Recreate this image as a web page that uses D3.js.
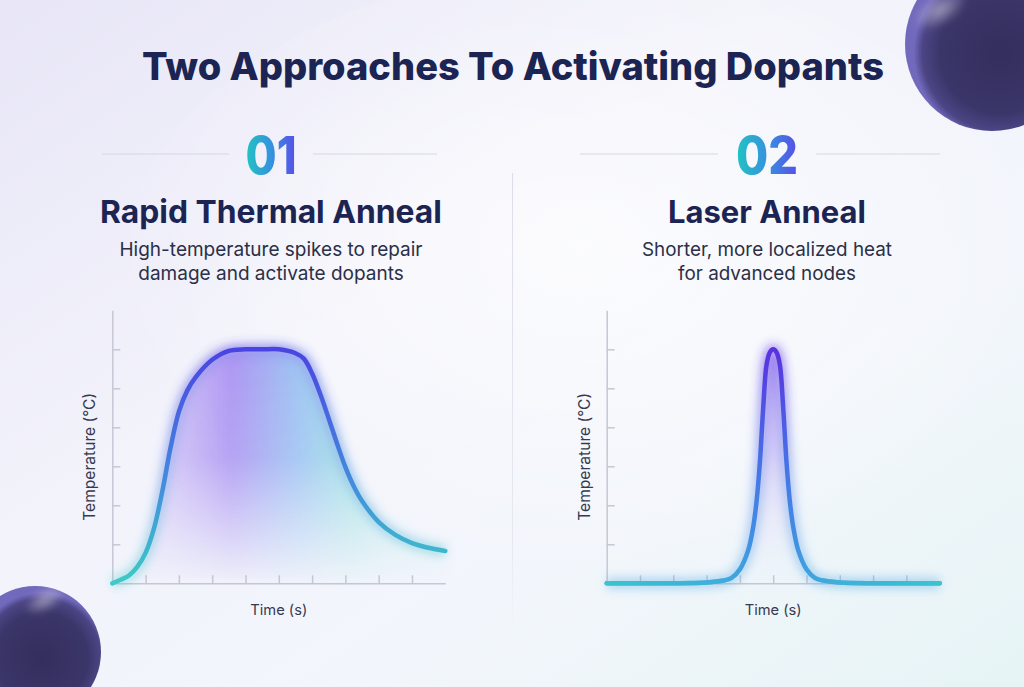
<!DOCTYPE html>
<html>
<head>
<meta charset="utf-8">
<script src="https://cdn.jsdelivr.net/npm/d3@7"></script>
<style>
  html, body { margin: 0; padding: 0; background: #f3f3fa; }
  svg { display: block; font-family: Inter, "Noto Sans", sans-serif; }
</style>
</head>
<body>
<svg id="chart" width="1024" height="687"></svg>
<script>
// values (temperature in tick units, time in tick units)
const rtaTime = [0, 0.25, 0.5, 0.75, 1, 1.25, 1.5, 1.75, 2, 2.25, 2.5, 3, 3.5, 4, 4.5, 5, 5.5, 5.75, 6, 6.25, 6.5, 6.75, 7, 7.25, 7.5, 8, 8.5, 9, 9.5, 10];
const rtaTemp = [0, 0.09, 0.2, 0.42, 0.78, 1.4, 2.35, 3.48, 4.4, 4.94, 5.28, 5.73, 5.96, 6, 6, 6, 5.9, 5.76, 5.38, 4.84, 4.22, 3.58, 2.98, 2.49, 2.11, 1.57, 1.24, 1.03, 0.91, 0.83];

const laserTime = [0, 1, 2, 3, 3.5, 3.75, 4, 4.25, 4.4, 4.5, 4.6, 4.7, 4.8, 4.9, 5, 5.1, 5.2, 5.3, 5.4, 5.5, 5.6, 5.75, 6, 6.25, 6.5, 7, 8, 9, 10];
const laserTemp = [0, 0, 0, 0.02, 0.07, 0.14, 0.36, 0.85, 1.45, 2.1, 3.1, 4.5, 5.6, 5.92, 6, 5.92, 5.6, 4.5, 3.1, 2.1, 1.45, 0.85, 0.36, 0.14, 0.07, 0.02, 0, 0, 0];

const xTicks = [1, 2, 3, 4, 5, 6, 7, 8, 9];
const yTicks = [1, 2, 3, 4, 5, 6];

const panels = [
  { num: "01", title: "Rapid Thermal Anneal",
    lines: ["High-temperature spikes to repair", "damage and activate dopants"],
    time: rtaTime, temp: rtaTemp },
  { num: "02", title: "Laser Anneal",
    lines: ["Shorter, more localized heat", "for advanced nodes"],
    time: laserTime, temp: laserTemp }
];

const svg = d3.select('#chart');
const width = +svg.attr('width');
const height = +svg.attr('height');
const defs = svg.append('defs');

// helper: make a gradient quickly
function linGrad(id, stops, attrs) {
  const g = defs.append('linearGradient').attr('id', id);
  Object.entries(attrs || {}).forEach(([k, v]) => g.attr(k, v));
  stops.forEach(s => g.append('stop').attr('offset', s[0]).attr('stop-color', s[1]).attr('stop-opacity', s[2] == null ? 1 : s[2]));
  return g;
}
function radGrad(id, stops, attrs) {
  const g = defs.append('radialGradient').attr('id', id);
  Object.entries(attrs || {}).forEach(([k, v]) => g.attr(k, v));
  stops.forEach(s => g.append('stop').attr('offset', s[0]).attr('stop-color', s[1]).attr('stop-opacity', s[2] == null ? 1 : s[2]));
  return g;
}

//background
linGrad('bg', [[0, '#e8e6f7'], [0.4, '#f3f3fb'], [0.7, '#f2f6fb'], [1, '#e6f4f6']], { x1: 0, y1: 0, x2: 1, y2: 1 });
radGrad('bgGlow', [[0, '#ffffff', 0.7], [1, '#ffffff', 0]], { cx: 0.5, cy: 0.42, r: 0.5 });
svg.append('rect').attr('width', width).attr('height', height).attr('fill', 'url(#bg)');
svg.append('ellipse').attr('cx', 580).attr('cy', 300).attr('rx', 470).attr('ry', 330).attr('fill', 'url(#bgGlow)');

// spheres in the corners
radGrad('sphere', [[0, '#332e5c'], [0.7, '#3b3669'], [0.9, '#4b4585'], [1, '#7169bb']], { cx: 0.55, cy: 0.55, r: 0.5 });
radGrad('shine', [[0, '#ffffff', 0.45], [1, '#ffffff', 0]], {});
const blurS = defs.append('filter').attr('id', 'soft').attr('x', '-50%').attr('y', '-50%').attr('width', '200%').attr('height', '200%');
blurS.append('feGaussianBlur').attr('stdDeviation', 3);

[{ cx: 992, cy: 44, r: 87, hx: 940, hy: 10 }, { cx: 35, cy: 652, r: 66, hx: 45, hy: 600 }].forEach(s => {
  svg.append('circle').attr('cx', s.cx).attr('cy', s.cy).attr('r', s.r).attr('fill', 'url(#sphere)');
  svg.append('ellipse').attr('cx', s.hx).attr('cy', s.hy).attr('rx', s.r * 0.35).attr('ry', s.r * 0.18)
    .attr('transform', `rotate(-30, ${s.hx}, ${s.hy})`)
    .attr('fill', 'url(#shine)').attr('filter', 'url(#soft)');
});

// text width fitting, so the fallback font keeps the reference widths
function fit(sel, w) {
  const n = sel.node();
  const fs = parseFloat(sel.attr('font-size'));
  const len = n.getComputedTextLength();
  let size = fs;
  if (len > 0) size = fs * w / len;
  sel.attr('font-size', size.toFixed(2));
  return size;
}

const navy = '#1b2452';

fit(svg.append('text')
  .attr('x', 513).attr('y', 80)
  .attr('text-anchor', 'middle')
  .attr('font-size', 34).attr('font-weight', 800)
  .attr('fill', navy)
  .text('Two Approaches To Activating Dopants'), 742);

// divider
linGrad('divGrad', [[0, '#dcdde9', 1], [0.8, '#e3e4ee', 0.8], [1, '#e6e7f0', 0]], { x1: 0, y1: 0, x2: 0, y2: 1 });
svg.append('rect').attr('x', 512).attr('y', 173).attr('width', 1).attr('height', 460).attr('fill', 'url(#divGrad)');

linGrad('numGrad', [[0, '#22c4c2'], [0.5, '#3592df'], [1, '#5a4de8']], { x1: 0, y1: 0, x2: 1, y2: 0 });

// stroke + fill gradients
linGrad('strokeA', [[0, '#3ccbc6'], [0.45, '#4388de'], [1, '#4a42e2']],
  { gradientUnits: 'userSpaceOnUse', x1: 0, y1: 583, x2: 0, y2: 345 });
linGrad('strokeB', [[0, '#3f9fe2'], [0.5, '#4673e6'], [1, '#5a2fe0']],
  { gradientUnits: 'userSpaceOnUse', x1: 0, y1: 583, x2: 0, y2: 345 });
linGrad('edgeB', [[0, '#3ac4cc', 1], [0.32, '#3ebbd2', 0.6], [0.44, '#40b0d8', 0], [0.56, '#40b0d8', 0], [0.68, '#3ebbd2', 0.6], [1, '#3ac4cc', 1]],
  { gradientUnits: 'userSpaceOnUse', x1: 607, y1: 0, x2: 940, y2: 0 });

linGrad('fillA', [[0, '#c4b2f5', 0.6], [0.3, '#a084f0', 0.85], [0.55, '#88b6f0', 0.8], [0.75, '#7ddada', 0.7], [1, '#a0eaea', 0.35]],
  { gradientUnits: 'userSpaceOnUse', x1: 150, y1: 0, x2: 420, y2: 0 });
linGrad('fillB', [[0, '#9370f0', 0.75], [1, '#c4b4f5', 0.1]],
  { gradientUnits: 'userSpaceOnUse', x1: 0, y1: 350, x2: 0, y2: 583 });
linGrad('fadeDown', [[0, '#ffffff'], [0.45, '#dddddd'], [1, '#000000']],
  { gradientUnits: 'userSpaceOnUse', x1: 0, y1: 350, x2: 0, y2: 590 });
defs.append('mask').attr('id', 'fadeMask').attr('maskUnits', 'userSpaceOnUse')
  .attr('x', 0).attr('y', 0).attr('width', width).attr('height', height)
  .append('rect').attr('width', width).attr('height', height).attr('fill', 'url(#fadeDown)');

const glow = defs.append('filter').attr('id', 'glow').attr('filterUnits', 'userSpaceOnUse')
  .attr('x', 0).attr('y', 0).attr('width', width).attr('height', height);
glow.append('feGaussianBlur').attr('stdDeviation', 5);
const fillBlur = defs.append('filter').attr('id', 'fillBlur').attr('filterUnits', 'userSpaceOnUse')
  .attr('x', 0).attr('y', 0).attr('width', width).attr('height', height);
fillBlur.append('feGaussianBlur').attr('stdDeviation', 6);

const cx = [271, 767];
const axisLeftX = [112.3, 606.7];

panels.forEach((p, i) => {
  const c = cx[i];
  const g = svg.append('g');

  // number with side rules
  g.append('text')
    .attr('x', c).attr('y', 174)
    .attr('text-anchor', 'middle')
    .attr('font-size', 52).attr('font-weight', 800)
    .attr('textLength', i === 0 ? 51 : 62)
    .attr('lengthAdjust', 'spacingAndGlyphs')
    .attr('fill', 'url(#numGrad)')
    .text(p.num);
  const rules = i === 0 ? [[102, 229], [313, 437]] : [[580, 718], [816, 940]];
  rules.forEach(r => g.append('line')
    .attr('x1', r[0]).attr('x2', r[1]).attr('y1', 154).attr('y2', 154)
    .attr('stroke', '#d6d7e4').attr('stroke-width', 1));

  fit(g.append('text')
    .attr('x', c).attr('y', 223)
    .attr('text-anchor', 'middle')
    .attr('font-size', 26).attr('font-weight', 700)
    .attr('fill', navy)
    .text(p.title), i === 0 ? 342 : 198);

  let subSize = 16;
  p.lines.forEach((t, j) => {
    const s = g.append('text')
      .attr('x', c).attr('y', 256 + j * 24)
      .attr('text-anchor', 'middle')
      .attr('font-size', subSize)
      .attr('fill', '#2b2f47')
      .text(t);
    if (j === 0) subSize = fit(s, i === 0 ? 303 : 250);
  });

  // scales
  const x0 = axisLeftX[i];
  const xScale = d3.scaleLinear().domain([0, 10]).range([x0, x0 + 333]);
  const yScale = d3.scaleLinear().domain([0, 7]).range([583.3, 310.3]);
  const pts = p.time.map((t, k) => ({ t: t, v: p.temp[k] }));

  // axes
  const yAxis = g.append('g')
    .attr('transform', `translate(${x0},0)`)
    .call(d3.axisLeft(yScale).tickValues(yTicks).tickSize(-8).tickSizeOuter(0).tickFormat(''));
  const xAxis = g.append('g')
    .attr('transform', `translate(0,${yScale(0)})`)
    .call(d3.axisBottom(xScale).tickValues(xTicks).tickSize(-8).tickSizeOuter(0).tickFormat(''));
  [yAxis, xAxis].forEach(a => {
    a.selectAll('path, line').attr('stroke', '#c6c7d6').attr('stroke-width', 1.5);
  });

  // axis titles
  fit(g.append('text')
    .attr('transform', `translate(${x0 - 17},${yScale(3.5) + 10}) rotate(-90)`)
    .attr('text-anchor', 'middle')
    .attr('font-size', 14)
    .attr('fill', '#363a50')
    .text('Temperature (°C)'), 128);
  fit(g.append('text')
    .attr('x', xScale(5)).attr('y', 615)
    .attr('text-anchor', 'middle')
    .attr('font-size', 14)
    .attr('fill', '#363a50')
    .text('Time (s)'), 57);

  const curve = d3.curveCatmullRom.alpha(0.5);
  const area = d3.area()
    .x(d => xScale(d.t))
    .y0(yScale(0))
    .y1(d => yScale(d.v))
    .curve(curve);
  const line = d3.line()
    .x(d => xScale(d.t))
    .y(d => yScale(d.v))
    .curve(curve);

  // soft fill under the curve
  g.append('g').attr('mask', 'url(#fadeMask)')
    .append('path')
    .datum(pts)
    .attr('d', area)
    .attr('fill', i === 0 ? 'url(#fillA)' : 'url(#fillB)')
    .attr('filter', 'url(#fillBlur)');

  const strokeId = i === 0 ? 'url(#strokeA)' : 'url(#strokeB)';
  // glow
  g.append('path')
    .datum(pts)
    .attr('d', line)
    .attr('fill', 'none')
    .attr('stroke', strokeId)
    .attr('stroke-width', 12)
    .attr('stroke-opacity', 0.35)
    .attr('filter', 'url(#glow)');
  g.append('path')
    .datum(pts)
    .attr('d', line)
    .attr('fill', 'none')
    .attr('stroke', strokeId)
    .attr('stroke-width', 4.5)
    .attr('stroke-linecap', 'round');
  if (i === 1) {
    g.append('path')
      .datum(pts)
      .attr('d', line)
      .attr('fill', 'none')
      .attr('stroke', 'url(#edgeB)')
      .attr('stroke-width', 4.5)
      .attr('stroke-linecap', 'round');
  }
});
</script>
</body>
</html>
